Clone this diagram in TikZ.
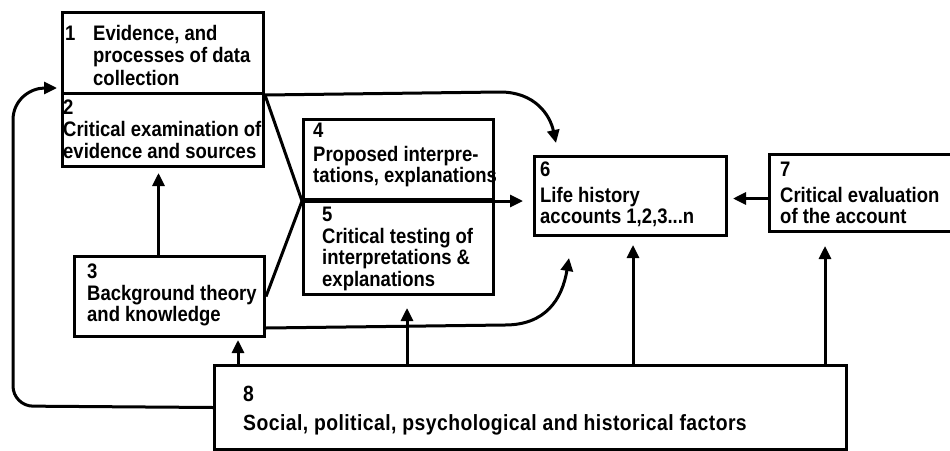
\documentclass[tikz,border=0pt]{standalone}
\usepackage{fontspec}
\setmainfont{Liberation Sans}[FakeStretch=0.88]
\newfontfamily\widefont{Liberation Sans}[FakeStretch=0.88, LetterSpace=2]
\usetikzlibrary{arrows.meta,calc}
\begin{document}
\begin{tikzpicture}[x=1pt,y=1pt,
  box/.style={draw, line width=3pt, anchor=north west, inner sep=0pt},
  txt/.style={anchor=north west, inner sep=0pt, align=left,
    font=\fontsize{21}{21.5}\selectfont\bfseries},
  arr/.style={line width=3pt, -{Triangle[length=13pt,width=12pt]}},
  ln/.style={line width=3pt},
]
\useasboundingbox (0,0) rectangle (950,-450);

% boxes
\node[box, minimum width=201pt, minimum height=81pt] (b1) at (61,-11) {};
\node[box, minimum width=201pt, minimum height=73pt] (b2) at (61,-92) {};
\node[box, minimum width=190pt, minimum height=80pt] (b3) at (73,-255) {};
\node[box, minimum width=190pt, minimum height=80pt] (b4) at (302,-118) {};
\node[box, minimum width=190pt, minimum height=95pt] (b5) at (302,-198) {};
\node[box, minimum width=192pt, minimum height=79pt] (b6) at (533,-155) {};
\node[box, minimum width=192pt, minimum height=77pt] (b7) at (768,-153) {};
\node[box, minimum width=632pt, minimum height=84pt] (b8) at (213,-364) {};

% box texts
\node[txt] (t1) at (65,-25) {\makebox[28pt][l]{1}Evidence, and\\[1pt]\hspace*{28pt}processes of data\\[1pt]\hspace*{28pt}collection};
\node[txt] (t2) at (63,-100) {2\\Critical examination of\\[1pt]evidence and sources};
\node[txt] (t3) at (87,-264) {3\\Background theory\\and knowledge};
\node[txt] (t4) at (313,-123) {4\\[2pt]Proposed interpre-\\tations, explanations};
\node[txt] (t5) at (322,-207) {5\\Critical testing of\\interpretations \&\\explanations};
\node[txt] (t6) at (540,-162) {6\\[4pt]Life history\\accounts 1,2,3...n};
\node[txt] (t7) at (780,-162) {7\\[4pt]Critical evaluation\\of the account};
\node[txt, font=\fontsize{22}{22}\selectfont\widefont\bfseries] (t8) at (243,-386) {8\\[7pt]Social, political, psychological and historical factors};

% free arrow ends
\coordinate (c6a) at (556,-143);
\coordinate (c6b) at (569,-258);
\coordinate (c1a) at (57,-88);

% connectors
\draw[arr] (b1.south east) -- (500,-92) .. controls (535,-92) and (550,-115) .. (c6a);
\draw[ln] (b1.south east) -- (b4.south west);
\draw[ln] (b3.east) -- (b4.south west);
\draw[arr, shorten >=10pt] (b4.south west) -- (b4.south west -| b6.west);
\draw[arr, shorten >=5pt] ([xshift=-11pt]b3.north) -- ([xshift=-11pt]b3.north |- b2.south);
\draw[arr] ([yshift=10pt]b3.south east) -- (505,-325) .. controls (545,-325) and (562,-300) .. (c6b);
\draw[arr, shorten >=5pt] ([yshift=-5.5pt]b7.west) -- ([yshift=-5.5pt]b7.west -| b6.east);

\draw[arr, shorten >=2pt] ([xshift=25pt]b8.north west) -- ([xshift=25pt]b8.north west |- b3.south);
\draw[arr, shorten >=12pt] ([xshift=194pt]b8.north west) -- ([xshift=194pt]b8.north west |- b5.south);
\draw[arr, shorten >=8pt] ([xshift=420pt]b8.north west) -- ([xshift=420pt]b8.north west |- b6.south);
\draw[arr, shorten >=13pt] ([xshift=612pt]b8.north west) -- ([xshift=612pt]b8.north west |- b7.south);

\draw[arr, rounded corners=20pt] (b8.west) -- (13,-406) -- (13,-140) [sharp corners] .. controls (13,-100) and (30,-88) .. (c1a);
\end{tikzpicture}
\end{document}
